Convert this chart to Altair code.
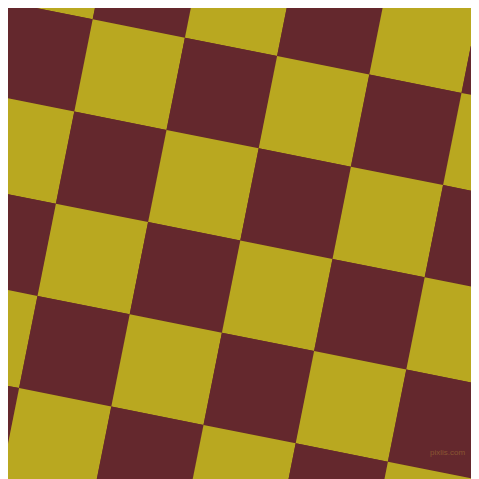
import altair as alt
import pandas as pd
import math

# Checkerboard grid indices (rotated board)
rows = [-2, -1, 0, 1, 2, 3, 4, 5]
cols = [-2, -1, 0, 1, 2, 3, 4, 5]
tones = ["yellow", "maroon"]
palette = ["#B9A820", "#64282D"]
watermark = ["pixlis.com"]

# board geometry (page pixels)
ORIGIN_X, ORIGIN_Y = 92.7, 19.3
STEP_A, STEP_B = 92.2, 18.4
SIDE = (STEP_A ** 2 + STEP_B ** 2) ** 0.5
ANGLE = math.degrees(math.atan2(STEP_B, STEP_A))

cells = pd.DataFrame(
    [{"i": i, "j": j, "tone": tones[(i + j) % 2]} for i in rows for j in cols]
)

M = 8          # page margin
W = 479 - 2 * M  # width limited by body width
H = 479 - M      # height runs to the bottom of the window
xs = alt.Scale(domain=[M, M + W], range=[0, W], nice=False, zero=False)
ys = alt.Scale(domain=[M, M + H], range=[0, H], nice=False, zero=False)

squares = (
    alt.Chart(cells)
    .transform_calculate(
        cx=f"{ORIGIN_X} + (datum.i + 0.5) * {STEP_A} - (datum.j + 0.5) * {STEP_B}",
        cy=f"{ORIGIN_Y} + (datum.i + 0.5) * {STEP_B} + (datum.j + 0.5) * {STEP_A}",
    )
    .mark_point(shape="square", filled=True, opacity=1, strokeWidth=0,
                size=SIDE * SIDE, angle=ANGLE, clip=True)
    .encode(
        x=alt.X("cx:Q", scale=xs, axis=None),
        y=alt.Y("cy:Q", scale=ys, axis=None),
        color=alt.Color("tone:N", scale=alt.Scale(domain=tones, range=palette), legend=None),
    )
)

text = (
    alt.Chart(pd.DataFrame({"label": watermark, "px": [447.5], "py": [455]}))
    .mark_text(font="Liberation Sans", fontSize=8, color="#8A5632",
               align="center", baseline="alphabetic")
    .encode(
        x=alt.X("px:Q", scale=xs, axis=None),
        y=alt.Y("py:Q", scale=ys, axis=None),
        text="label:N",
    )
)

chart = (
    alt.layer(squares, text)
    .properties(width=W, height=H, background="#64282D", padding=0,
                autosize=alt.AutoSizeParams(type="none"))
    .configure_view(stroke=None)
)

chart.save("out.html", embed_options={"renderer": "svg", "actions": False})
